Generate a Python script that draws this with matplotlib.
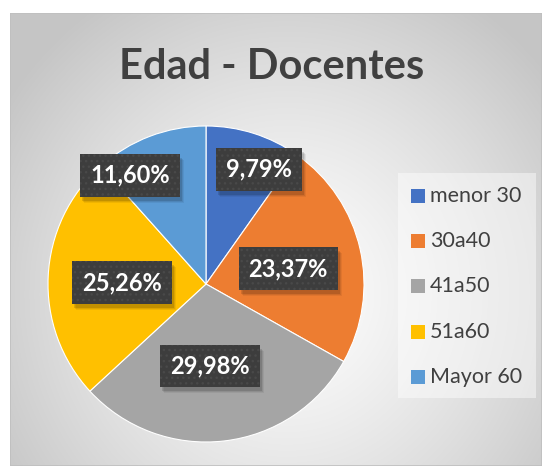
import numpy as np
import matplotlib
matplotlib.use("Agg")
import matplotlib.pyplot as plt
from matplotlib.patches import Rectangle
from matplotlib.transforms import IdentityTransform

title = "Edad - Docentes"
categories = ["menor 30", "30a40", "41a50", "51a60", "Mayor 60"]
values = [9.79, 23.37, 29.98, 25.26, 11.60]
labels = ["9,79%", "23,37%", "29,98%", "25,26%", "11,60%"]
colors = ["#4472C4", "#ED7D31", "#A5A5A5", "#FFC000", "#5B9BD5"]

# label placement (radius fraction, angle shift in degrees)
label_r = [0.80, 0.53, 0.52, 0.53, 0.84]
label_shift = [-7, -2, -4, 2, 14]

W, H = 542, 466
fig = plt.figure(figsize=(W / 100, H / 100), dpi=100)
fig.patch.set_facecolor("white")

# background with radial gradient (chart area)
x0, y0 = 10, 13
bg = fig.add_axes([x0 / W, 0, 1 - x0 / W, 1 - y0 / H])
bg.set_axis_off()
yy, xx = np.mgrid[0:H - y0, 0:W - x0]
cx, cy = (W - x0) * 0.52, (H - y0) * 0.62
d = np.sqrt(((xx - cx) / (W * 0.62)) ** 2 + ((yy - cy) / (H * 0.75)) ** 2)
d = np.clip(d, 0, 1)
lum = 0.995 - 0.22 * d ** 1.3
img = np.dstack([lum, lum, lum])
bg.imshow(img, aspect="auto", extent=[0, 1, 0, 1], origin="upper")
bg.add_patch(Rectangle((0, 0), 1, 1, transform=bg.transAxes, fill=False,
                       edgecolor="#BFBFBF", linewidth=1.2))
bg.set_xlim(0, 1)
bg.set_ylim(0, 1)

# title
fig.text(272 / W, 1 - 67 / H, title, ha="center", va="center",
         fontsize=30, fontweight="bold", color="#404040", family="Lato")

# pie
pcx, pcy, R = 206, 284, 158
ax = fig.add_axes([(pcx - R) / W, 1 - (pcy + R) / H, 2 * R / W, 2 * R / H])
wedges, _ = ax.pie(values, colors=colors, startangle=90, counterclock=False,
                   wedgeprops=dict(linewidth=0.8, edgecolor="white"), radius=1)
ax.set_xlim(-1, 1)
ax.set_ylim(-1, 1)
ax.set_aspect("equal")

total = sum(values)
cum = 0
texts = []
for i, v in enumerate(values):
    mid = 90 - (cum + v / 2) / total * 360 + label_shift[i]
    cum += v
    a = np.deg2rad(mid)
    lx, ly = label_r[i] * np.cos(a), label_r[i] * np.sin(a)
    t = ax.text(lx, ly, labels[i], ha="center", va="center", fontsize=17,
                fontweight="bold", color="white", family="Lato", zorder=5,
                bbox=dict(boxstyle="square,pad=0.42", facecolor="#3D3D3D",
                          edgecolor="#494949", linewidth=0, hatch="..."))
    texts.append(t)

# drop shadows behind the label boxes
fig.canvas.draw()
renderer = fig.canvas.get_renderer()
for t in texts:
    bb = t.get_bbox_patch().get_window_extent(renderer)
    for k, alpha in [(5, 0.06), (4, 0.08), (3, 0.12)]:
        ax.add_patch(Rectangle((bb.x0 + k - 1, bb.y0 - k - 1), bb.width, bb.height,
                               transform=IdentityTransform(),
                               facecolor=(0, 0, 0, alpha), edgecolor="none",
                               zorder=4))

# legend
leg_ax = fig.add_axes([398 / W, 1 - 398 / H, (536 - 398) / W, (398 - 173) / H])
leg_ax.set_axis_off()
leg_ax.add_patch(Rectangle((0, 0), 1, 1, transform=leg_ax.transAxes,
                           facecolor="white", alpha=0.45, edgecolor="none"))
leg_ax.set_xlim(0, 1)
leg_ax.set_ylim(0, 1)
for i, (c, col) in enumerate(zip(categories, colors)):
    ypix = 196 + i * 45.2
    yf = (398 - ypix) / (398 - 173)
    leg_ax.add_patch(Rectangle((13 / 138, yf - 7 / 225), 14 / 138, 14 / 225,
                               transform=leg_ax.transAxes, facecolor=col,
                               edgecolor="none"))
    leg_ax.text(32 / 138, yf, c, transform=leg_ax.transAxes, ha="left",
                va="center", fontsize=15.5, color="#404040", family="Lato")

fig.savefig("out.png", dpi=100)
